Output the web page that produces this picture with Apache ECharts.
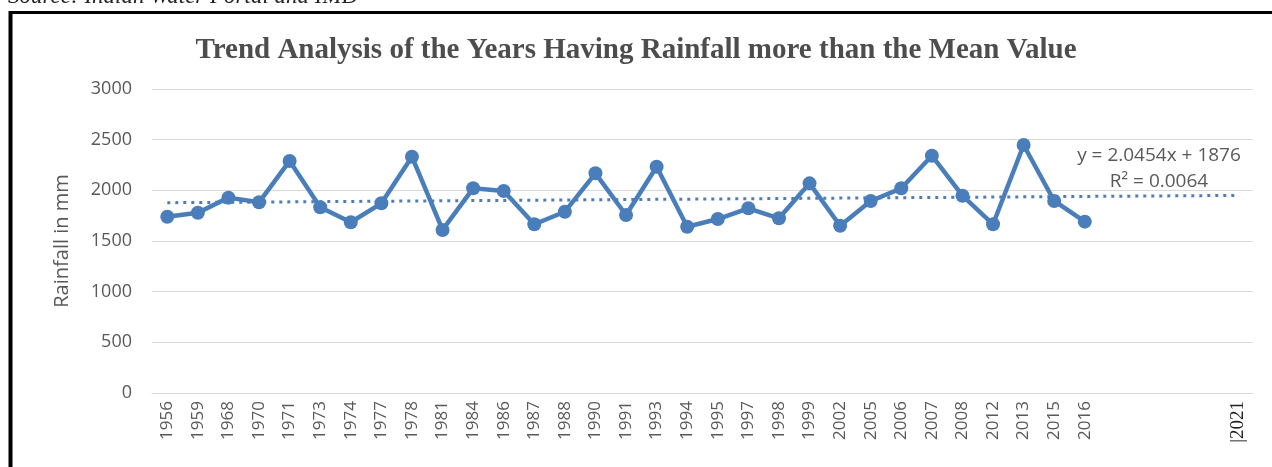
<!DOCTYPE html>
<html>
<head>
<meta charset="utf-8">
<script src="https://cdn.jsdelivr.net/npm/echarts@6/dist/echarts.min.js"></script>
<style>
  html, body { margin: 0; padding: 0; background: #fff; }
  #chart { width: 1272px; height: 467px; }
</style>
</head>
<body>
<div id="chart"></div>
<script>
// years on the axis; the last five slots are the forecast span of the trend line
const years = ['1956', '1959', '1968', '1970', '1971', '1973', '1974', '1977', '1978', '1981',
  '1984', '1986', '1987', '1988', '1990', '1991', '1993', '1994', '1995', '1997',
  '1998', '1999', '2002', '2005', '2006', '2007', '2008', '2012', '2013', '2015',
  '2016', '', '', '', '', '|2021']
const rainfall = [1740, 1779, 1928, 1882, 2290, 1833, 1685, 1872, 2332, 1609,
  2020, 1993, 1665, 1789, 2168, 1757, 2233, 1641, 1717, 1823,
  1724, 2069, 1651, 1895, 2020, 2342, 1947, 1665, 2447, 1895, 1691]
// linear trend end points (y = 2.0454x + 1876 at x = 1 and x = 36)
const trendPoints = [[0, 1878], [35, 1950]]
const yTicks = [0, 500, 1000, 1500, 2000, 2500, 3000]

const textColor = '#595959'
const blue = '#4a7ebb'

let myChart = echarts.init(document.getElementById('chart'))
let option = {
  animation: false,
  grid: { left: 152, right: 19, top: 89, bottom: 74, containLabel: false },
  xAxis: {
    type: 'category',
    data: years,
    boundaryGap: true,
    axisLine: { lineStyle: { color: '#d9d9d9', width: 1 } },
    axisTick: { show: false },
    axisLabel: {
      interval: 0,
      rotate: 90,
      margin: 8,
      color: textColor,
      fontFamily: 'Open Sans',
      fontSize: 17,
      formatter: function (v) {
        return v.charAt(0) === '|' ? '{serif|' + v + '}' : v
      },
      rich: {
        serif: { fontFamily: 'Liberation Serif', fontSize: 19, color: '#222' }
      }
    }
  },
  yAxis: {
    type: 'value',
    min: yTicks[0],
    max: yTicks[yTicks.length - 1],
    interval: 500,
    name: 'Rainfall in mm',
    nameLocation: 'middle',
    nameGap: 80,
    nameTextStyle: { color: textColor, fontFamily: 'Open Sans', fontSize: 20 },
    axisLine: { show: false },
    axisTick: { show: false },
    axisLabel: {
      color: textColor, fontFamily: 'Open Sans', fontSize: 18, margin: 20,
      formatter: function (v) { return String(v) }
    },
    splitLine: { lineStyle: { color: '#d9d9d9', width: 1 } }
  },
  series: [
    {
      name: 'Rainfall',
      type: 'line',
      data: rainfall,
      symbol: 'circle',
      symbolSize: 14,
      lineStyle: { color: blue, width: 4.5 },
      itemStyle: { color: blue },
      z: 3
    },
    {
      name: 'Trend',
      type: 'line',
      data: trendPoints,
      symbol: 'none',
      lineStyle: { color: blue, width: 3, type: [3, 5], cap: 'butt' },
      z: 2
    }
  ],
  graphic: [
    {
      type: 'text',
      left: 'center',
      top: 36,
      style: {
        text: 'Trend Analysis of the Years Having Rainfall more than the Mean Value',
        fill: '#4d4d4d',
        font: 'bold 29px "Liberation Serif"'
      }
    },
    {
      type: 'text',
      left: 8,
      top: -15,
      style: {
        text: 'Source: Indian Water Portal and IMD',
        fill: '#222',
        font: 'italic 23px "Liberation Serif"'
      }
    },
    {
      type: 'text',
      x: 1159,
      y: 143,
      style: {
        text: 'y = 2.0454x + 1876\nR² = 0.0064',
        fill: textColor,
        font: '19px "Open Sans"',
        align: 'center',
        lineHeight: 26
      }
    },
    {
      type: 'line',
      shape: { x1: 9, y1: 12.5, x2: 1272, y2: 12.5 },
      style: { stroke: '#000', lineWidth: 3 }
    },
    {
      type: 'line',
      shape: { x1: 10.5, y1: 11, x2: 10.5, y2: 467 },
      style: { stroke: '#000', lineWidth: 4 }
    }
  ]
}
myChart.setOption(option)
</script>
</body>
</html>
